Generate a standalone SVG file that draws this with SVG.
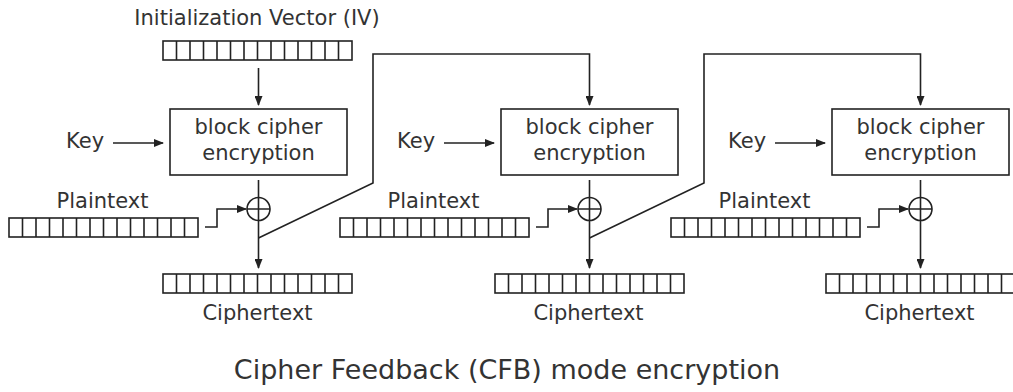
<svg xmlns="http://www.w3.org/2000/svg" width="1013" height="392" viewBox="0 0 1013 392">
<style>
text{font-family:"DejaVu Sans","Liberation Sans",sans-serif;fill:#333;}
.lbl{font-size:21px;}
.title{font-size:27px;text-anchor:middle;}
.mid{text-anchor:middle;}
.ln{fill:none;stroke:#222;stroke-width:1.6;}
.box{fill:#fff;stroke:#222;stroke-width:1.6;}
</style>
<defs>
<marker id="ah" markerWidth="10" markerHeight="8" refX="9" refY="4" orient="auto" markerUnits="userSpaceOnUse">
<path d="M0,0 L10,4 L0,8 z" fill="#222"/>
</marker>
<g id="bar">
<rect x="0" y="0" width="189" height="19" class="box"/>
<path class="ln" d="M13.5,0v19M27,0v19M40.5,0v19M54,0v19M67.5,0v19M81,0v19M94.5,0v19M108,0v19M121.5,0v19M135,0v19M148.5,0v19M162,0v19M175.5,0v19"/>
</g>
<g id="xor">
<circle cx="0" cy="0" r="11.5" class="ln"/>
<path class="ln" d="M-11.5,0h23M0,-11.5v23"/>
</g>
</defs>

<g id="iv">
<text class="lbl mid" x="257" y="25">Initialization Vector (IV)</text>
<use href="#bar" x="163" y="41"/>
</g>

<g id="unit1">
<rect id="enc1" x="170" y="109" width="177" height="66" class="box"/>
<text class="lbl mid" x="258.5" y="134">block cipher</text>
<text class="lbl mid" x="258.5" y="160">encryption</text>
<text class="lbl" x="66" y="148">Key</text>
<use href="#xor" x="258.5" y="209"/>
<text class="lbl mid" x="102.5" y="208">Plaintext</text>
<use href="#bar" x="9" y="218"/>
<use href="#bar" x="163" y="274"/>
<text class="lbl mid" x="257.5" y="320">Ciphertext</text>
</g>

<g id="unit2">
<rect id="enc2" x="501" y="109" width="177" height="66" class="box"/>
<text class="lbl mid" x="589.5" y="134">block cipher</text>
<text class="lbl mid" x="589.5" y="160">encryption</text>
<text class="lbl" x="397" y="148">Key</text>
<use href="#xor" x="589.5" y="209"/>
<text class="lbl mid" x="433.5" y="208">Plaintext</text>
<use href="#bar" x="340" y="218"/>
<use href="#bar" x="495" y="274"/>
<text class="lbl mid" x="588.5" y="320">Ciphertext</text>
</g>

<g id="unit3">
<rect id="enc3" x="832" y="109" width="177" height="66" class="box"/>
<text class="lbl mid" x="920.5" y="134">block cipher</text>
<text class="lbl mid" x="920.5" y="160">encryption</text>
<text class="lbl" x="728" y="148">Key</text>
<use href="#xor" x="920.5" y="209"/>
<text class="lbl mid" x="764.5" y="208">Plaintext</text>
<use href="#bar" x="671" y="218"/>
<use href="#bar" x="826" y="274"/>
<text class="lbl mid" x="919.5" y="320">Ciphertext</text>
</g>

<g id="connectors">
<path class="ln" marker-end="url(#ah)" d="M258.5,68V105"/>
<path class="ln" marker-end="url(#ah)" d="M113,143H163"/>
<path class="ln" marker-end="url(#ah)" d="M444,143H494"/>
<path class="ln" marker-end="url(#ah)" d="M775,143H825"/>
<path class="ln" d="M258.5,180V197.5"/>
<path class="ln" d="M589.5,180V197.5"/>
<path class="ln" d="M920.5,180V197.5"/>
<path class="ln" marker-end="url(#ah)" d="M258.5,220.5V268"/>
<path class="ln" marker-end="url(#ah)" d="M589.5,220.5V268"/>
<path class="ln" marker-end="url(#ah)" d="M920.5,220.5V268"/>
<path class="ln" marker-end="url(#ah)" d="M205,227H217V209H246"/>
<path class="ln" marker-end="url(#ah)" d="M536,227H548V209H577"/>
<path class="ln" marker-end="url(#ah)" d="M867,227H879V209H908"/>
<path class="ln" marker-end="url(#ah)" d="M258.5,238L373,183V54H589.5V105"/>
<path class="ln" marker-end="url(#ah)" d="M589.5,238L704,183V54H920.5V105"/>
</g>

<text class="title" x="507" y="379">Cipher Feedback (CFB) mode encryption</text>
</svg>
